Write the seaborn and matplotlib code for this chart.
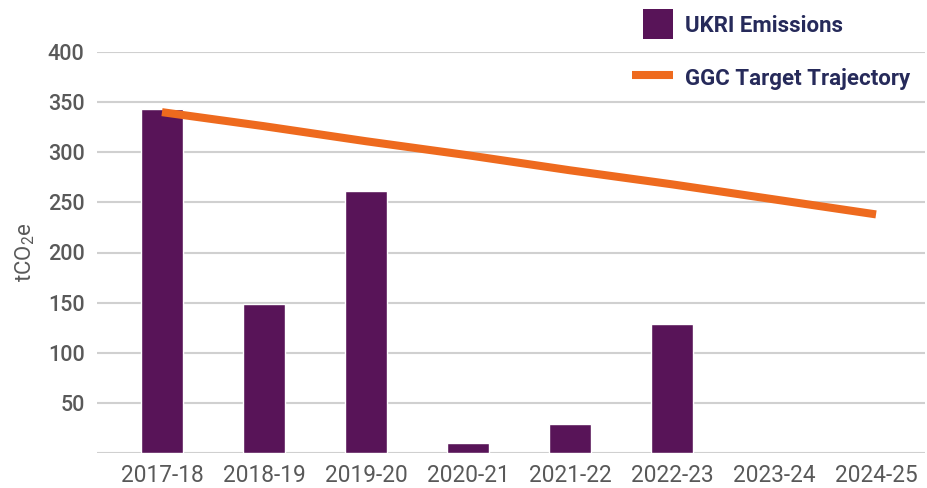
import numpy as np
import pandas as pd
import matplotlib
matplotlib.use("Agg")
import matplotlib.pyplot as plt
import seaborn as sns
from matplotlib.patches import Rectangle
from matplotlib.lines import Line2D
from matplotlib.legend_handler import HandlerPatch

years = ["2017-18", "2018-19", "2019-20", "2020-21", "2021-22", "2022-23", "2023-24", "2024-25"]
emissions = [343, 149, 261, 10, 29, 129, np.nan, np.nan]
target = [340, 326, 311, 297, 282, 268, 253, 238]
yticks = [50, 100, 150, 200, 250, 300, 350, 400]

BAR = "#581458"
LINE = "#ee6a1e"
TXT = "#595959"
LEG = "#262a5a"
GRID = "#d0d0d0"

sns.set_theme(style="white")
plt.rcParams["font.family"] = ["Roboto", "DejaVu Sans"]
plt.rcParams["mathtext.fontset"] = "custom"
plt.rcParams["mathtext.rm"] = "Roboto"
plt.rcParams["mathtext.it"] = "Roboto"

W, H = 927, 488
fig = plt.figure(figsize=(W / 100, H / 100), dpi=100)
ax = fig.add_axes([97 / W, 1 - 453 / H, (925 - 97) / W, (453 - 52) / H])

df = pd.DataFrame({"year": years, "emissions": emissions})
sns.barplot(data=df, x="year", y="emissions", order=years, color=BAR,
            saturation=1, width=0.41, ax=ax, label="UKRI Emissions", zorder=3)
sns.lineplot(x=np.arange(len(years)), y=target, color=LINE, linewidth=5.8,
             ax=ax, label="GGC Target Trajectory", zorder=4)
ax.lines[-1].set_solid_capstyle("butt")

ax.set_xlim(-0.637, 7.48)
ax.set_ylim(0, 400)
ax.set_yticks(yticks)
ax.set_yticklabels([str(v) for v in yticks])
ax.set_xticks(range(len(years)))
ax.set_xticklabels(years)
ax.grid(axis="y", color=GRID, linewidth=1.5, zorder=0)
ax.axhline(0, color=GRID, linewidth=1.5, zorder=1)
for s in ax.spines.values():
    s.set_visible(False)
ax.tick_params(axis="both", length=0, labelcolor=TXT)
ax.tick_params(axis="x", pad=8, labelsize=16.3)
ax.tick_params(axis="y", pad=9, labelsize=15.5)
for t in ax.get_yticklabels():
    t.set_fontweight("medium")
ax.set_xlabel("")
ax.set_ylabel(r"tCO$_\mathregular{2}$e", fontsize=16, color=TXT)
ax.yaxis.set_label_coords(-0.073, 0.5)


class SquareHandler(HandlerPatch):
    def create_artists(self, legend, orig_handle, xdescent, ydescent, width, height, fontsize, trans):
        s = 21.6
        r = Rectangle((-xdescent + width - s, -ydescent + (height - s) / 2), s, s,
                      facecolor=BAR, edgecolor="none", transform=trans)
        return [r]


if ax.get_legend():
    ax.get_legend().remove()
handles = [Rectangle((0, 0), 1, 1, color=BAR),
           Line2D([0], [0], color=LINE, linewidth=5.8, solid_capstyle="butt")]
labels = ["UKRI Emissions", "GGC Target Trajectory"]
leg = fig.legend(handles, labels, loc="upper left", bbox_to_anchor=(632 / W, 1 - 12 / H),
                 frameon=False, fontsize=16, handlelength=1.85, handleheight=1.35,
                 handletextpad=0.55, labelspacing=1.27, borderpad=0, borderaxespad=0,
                 handler_map={Rectangle: SquareHandler()})
for t in leg.get_texts():
    t.set_color(LEG)
    t.set_fontweight("bold")

fig.savefig("out.png", dpi=100)
